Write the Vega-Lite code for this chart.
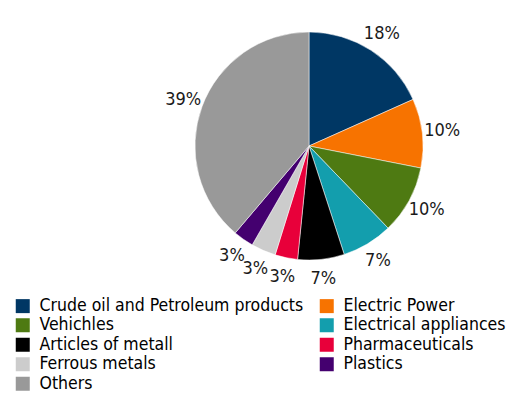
{
  "$schema": "https://vega.github.io/schema/vega-lite/v6.json",
  "width": 400,
  "height": 292,
  "padding": {"left": 109, "top": 0, "right": 0, "bottom": 103},
  "autosize": {"type": "none"},
  "background": "#ffffff",
  "data": {
    "values": [
      {"category": "Crude oil and Petroleum products", "value": 18.3, "label": "18%", "idx": 1},
      {"category": "Electric Power", "value": 9.8, "label": "10%", "idx": 2},
      {"category": "Vehichles", "value": 9.7, "label": "10%", "idx": 3},
      {"category": "Electrical appliances", "value": 7.2, "label": "7%", "idx": 4},
      {"category": "Articles of metall", "value": 6.6, "label": "7%", "idx": 5},
      {"category": "Pharmaceuticals", "value": 3.2, "label": "3%", "idx": 6},
      {"category": "Ferrous metals", "value": 3.5, "label": "3%", "idx": 7},
      {"category": "Plastics", "value": 2.9, "label": "3%", "idx": 8},
      {"category": "Others", "value": 38.8, "label": "39%", "idx": 9}
    ]
  },
  "encoding": {
    "theta": {"field": "value", "type": "quantitative", "stack": true},
    "order": {"field": "idx", "type": "quantitative"}
  },
  "layer": [
    {
      "mark": {"type": "arc", "outerRadius": 114, "stroke": "#ffffff", "strokeWidth": 0.5},
      "encoding": {
        "color": {
          "field": "category",
          "type": "nominal",
          "scale": {
            "domain": ["Crude oil and Petroleum products", "Vehichles", "Articles of metall", "Ferrous metals", "Others", "Electric Power", "Electrical appliances", "Pharmaceuticals", "Plastics"],
            "range": ["#003764", "#4E7A12", "#000000", "#CCCCCC", "#999999", "#F77300", "#139EAD", "#E8003A", "#44006F"]
          },
          "legend": {
            "title": null,
            "orient": "none",
            "legendX": -95,
            "legendY": 297,
            "columns": 2,
            "symbolType": "square",
            "symbolSize": 196,
            "symbolStrokeWidth": 0,
            "labelFont": "DejaVu Sans Condensed, Liberation Sans, sans-serif",
            "labelFontSize": 17.5,
            "labelColor": "#000000",
            "labelOffset": 8,
            "labelLimit": 0,
            "columnPadding": 14,
            "rowPadding": 0.5,
            "padding": 0
          }
        }
      }
    },
    {
      "mark": {"type": "text", "radius": 134, "font": "DejaVu Sans Condensed, Liberation Sans, sans-serif", "fontSize": 18, "fill": "#1a1a1a", "align": "center", "baseline": "middle"},
      "encoding": {"text": {"field": "label", "type": "nominal"}}
    }
  ],
  "config": {"view": {"stroke": null}}
}
